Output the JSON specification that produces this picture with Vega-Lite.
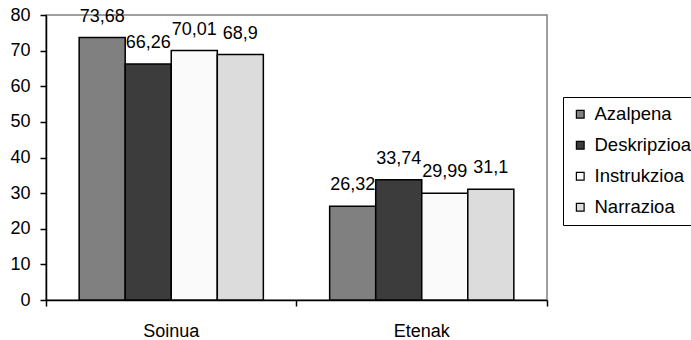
{
  "$schema": "https://vega.github.io/schema/vega-lite/v6.json",
  "autosize": "none",
  "width": 501,
  "height": 285,
  "padding": {"left": 46, "top": 15, "right": 144, "bottom": 40},
  "background": "white",
  "config": {
    "font": "Liberation Sans",
    "view": {"stroke": "#808080", "strokeWidth": 1.5},
    "axis": {
      "domainColor": "black",
      "domainWidth": 1.5,
      "tickColor": "black",
      "tickWidth": 1.5,
      "labelColor": "black",
      "labelFontSize": 18,
      "grid": false,
      "title": null
    }
  },
  "data": {
    "values": [
      {"cat": "Soinua", "series": "Azalpena", "value": 73.68, "label": "73,68"},
      {"cat": "Soinua", "series": "Deskripzioa", "value": 66.26, "label": "66,26"},
      {"cat": "Soinua", "series": "Instrukzioa", "value": 70.01, "label": "70,01"},
      {"cat": "Soinua", "series": "Narrazioa", "value": 68.9, "label": "68,9"},
      {"cat": "Etenak", "series": "Azalpena", "value": 26.32, "label": "26,32"},
      {"cat": "Etenak", "series": "Deskripzioa", "value": 33.74, "label": "33,74"},
      {"cat": "Etenak", "series": "Instrukzioa", "value": 29.99, "label": "29,99"},
      {"cat": "Etenak", "series": "Narrazioa", "value": 31.1, "label": "31,1"}
    ]
  },
  "encoding": {
    "x": {
      "field": "cat",
      "type": "nominal",
      "sort": ["Soinua", "Etenak"],
      "scale": {"paddingInner": 0, "paddingOuter": 0},
      "axis": {
        "labelAngle": 0,
        "bandPosition": 1,
        "tickExtra": true,
        "tickSize": 6,
        "labelPadding": 16
      }
    },
    "xOffset": {
      "field": "series",
      "type": "nominal",
      "sort": ["Azalpena", "Deskripzioa", "Instrukzioa", "Narrazioa"],
      "scale": {"paddingInner": 0, "paddingOuter": 0.72}
    },
    "y": {
      "field": "value",
      "type": "quantitative",
      "scale": {"domain": [0, 80], "nice": false},
      "axis": {"values": [0, 10, 20, 30, 40, 50, 60, 70, 80], "tickSize": 6, "labelPadding": 10}
    }
  },
  "layer": [
    {
      "mark": {"type": "bar", "stroke": "black", "strokeWidth": 1.5},
      "encoding": {
        "fill": {
          "field": "series",
          "type": "nominal",
          "sort": ["Azalpena", "Deskripzioa", "Instrukzioa", "Narrazioa"],
          "scale": {
            "domain": ["Azalpena", "Deskripzioa", "Instrukzioa", "Narrazioa"],
            "range": ["#808080", "#3c3c3c", "#fafafa", "#dcdcdc"]
          },
          "legend": {
            "title": null,
            "orient": "none",
            "legendX": 517,
            "legendY": 82,
            "strokeColor": "black",
            "fillColor": "white",
            "padding": 8,
            "symbolType": "square",
            "symbolSize": 60,
            "symbolStrokeColor": "black",
            "symbolStrokeWidth": 1.2,
            "symbolOpacity": 1,
            "labelFontSize": 18.5,
            "labelColor": "black",
            "rowPadding": 12,
            "labelOffset": 5
          }
        }
      }
    },
    {
      "mark": {"type": "text", "baseline": "alphabetic", "dy": -16, "fontSize": 18, "color": "black"},
      "encoding": {
        "text": {"field": "label"}
      }
    }
  ]
}
